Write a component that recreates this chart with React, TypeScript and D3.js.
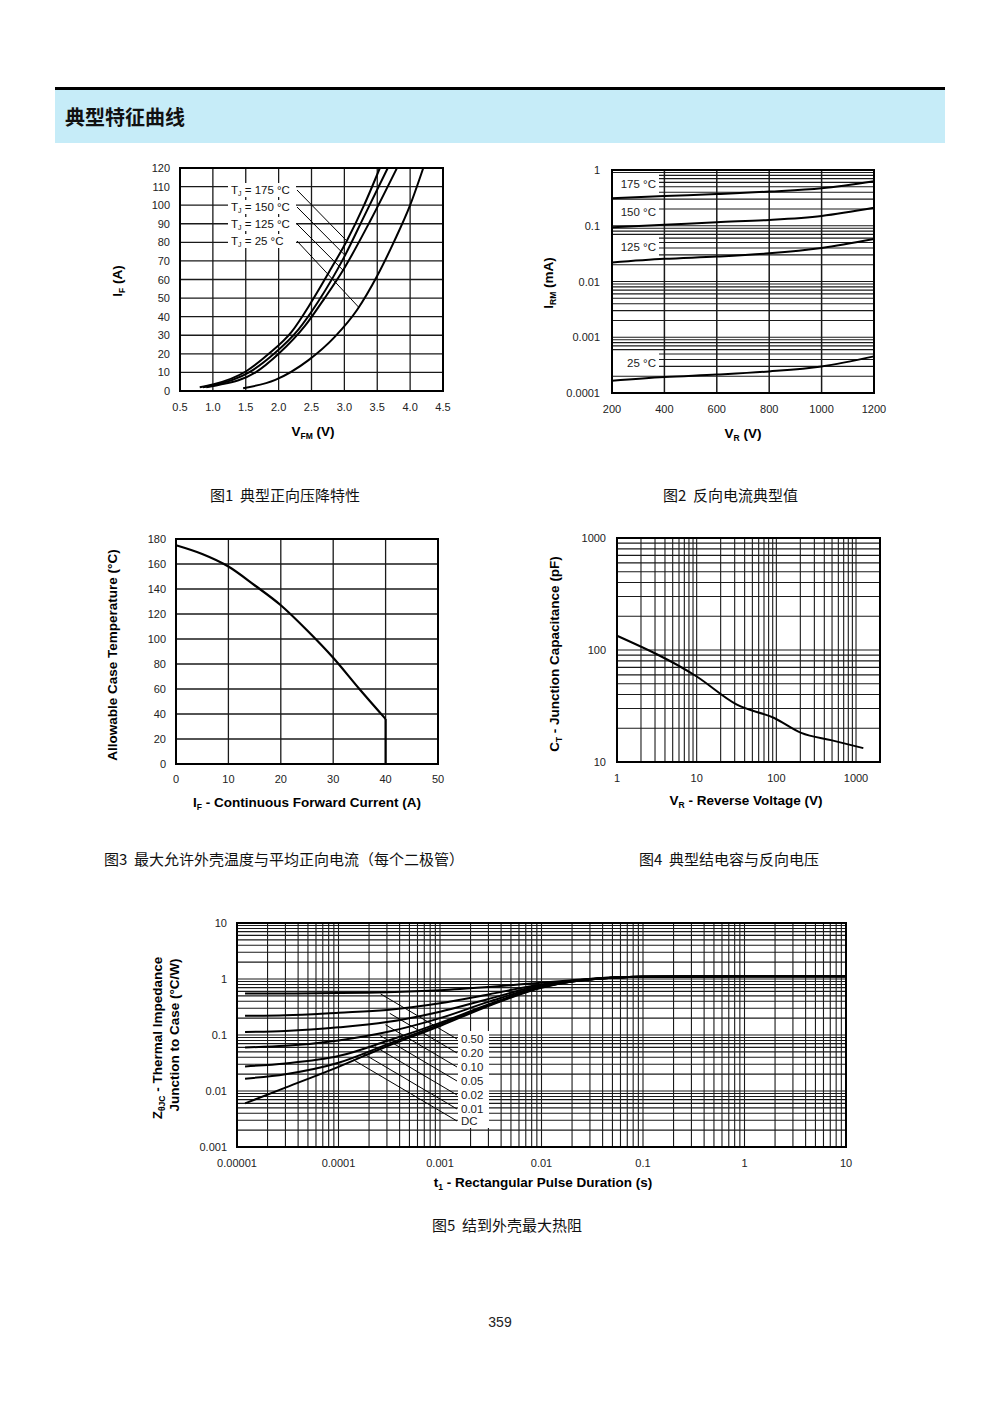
import React from 'react';
import * as d3 from 'd3';

const F = "'Liberation Sans', Arial, Helvetica, sans-serif";
const CJK = "'Noto Sans CJK SC', 'Noto Sans CJK JP', sans-serif";

// ---------- Fig1 data: forward voltage (V) vs forward current (A) ----------
const f1Labels = ['175', '150', '125', '25'];
const f1Curve175 = [[0.8, 2], [1.0, 3.5], [1.5, 10.5], [1.85, 20], [2.2, 32], [2.5, 48], [2.8, 66], [3.04, 81], [3.3, 100], [3.54, 120]];
const f1Curve150 = [[0.85, 2], [1.0, 3], [1.55, 10], [1.93, 20], [2.3, 33], [2.6, 48], [3.01, 73], [3.3, 94], [3.66, 120]];
const f1Curve125 = [[0.9, 2], [1.05, 3], [1.65, 10], [2.0, 20], [2.4, 35], [2.7, 50], [2.98, 65], [3.4, 92], [3.8, 120]];
const f1Curve25 = [[1.46, 1.5], [1.95, 6], [2.45, 16.5], [2.85, 29], [3.2, 44], [3.5, 62], [3.75, 80], [4.0, 100], [4.2, 120]];
const f1LeaderEnds = [[3.03, 81], [3.01, 73], [2.98, 65], [3.22, 45]];
const f1XTicks = [0.5, 1.0, 1.5, 2.0, 2.5, 3.0, 3.5, 4.0, 4.5];
const f1YTicks = [0, 10, 20, 30, 40, 50, 60, 70, 80, 90, 100, 110, 120];

// ---------- Fig2 data: reverse voltage (V) vs reverse current (mA) ----------
const f2Labels = ['175 °C', '150 °C', '125 °C', '25 °C'];
const f2Volts = [200, 400, 600, 800, 1000, 1200];
const f2I175 = [0.31, 0.34, 0.37, 0.41, 0.47, 0.63];
const f2I150 = [0.094, 0.104, 0.116, 0.127, 0.15, 0.21];
const f2I125 = [0.022, 0.0255, 0.028, 0.032, 0.04, 0.058];
const f2I25 = [0.000166, 0.000193, 0.000214, 0.000244, 0.0003, 0.000454];
const f2XTicks = [200, 400, 600, 800, 1000, 1200];
const f2YTicks = [1, 0.1, 0.01, 0.001, 0.0001];
const f2YTickLabels = ['1', '0.1', '0.01', '0.001', '0.0001'];

// ---------- Fig3 data: current (A) vs allowable case temperature ----------
const f3Current = [0, 5, 10, 15, 20, 25, 30, 35, 40];
const f3Temp = [175, 168, 158, 143, 127, 107, 85, 60, 36];
const f3XTicks = [0, 10, 20, 30, 40, 50];
const f3YTicks = [0, 20, 40, 60, 80, 100, 120, 140, 160, 180];

// ---------- Fig4 data: reverse voltage vs junction capacitance ----------
const f4Volts = [1, 10, 32, 94, 205, 500, 1235];
const f4Cap = [134, 58, 32.5, 24.7, 18.2, 15.6, 13.3];
const f4XTicks = [1, 10, 100, 1000];
const f4YTicks = [10, 100, 1000];

// ---------- Fig5 data: pulse duration vs thermal impedance ----------
const f5Names = ['0.50', '0.20', '0.10', '0.05', '0.02', '0.01', 'DC'];
const f5D050 = [[1.2e-5, 0.55], [3e-5, 0.55], [1e-4, 0.56], [3e-4, 0.58], [1e-3, 0.63], [3e-3, 0.72], [0.01, 0.86], [0.02, 0.95], [0.05, 1.06], [0.1, 1.1], [1, 1.12], [10, 1.12]];
const f5D020 = [[1.2e-5, 0.22], [3e-5, 0.225], [1e-4, 0.25], [3e-4, 0.28], [1e-3, 0.37], [3e-3, 0.53], [0.01, 0.8], [0.02, 0.93], [0.05, 1.06], [0.1, 1.1], [1, 1.12], [10, 1.12]];
const f5D010 = [[1.2e-5, 0.113], [3e-5, 0.118], [1e-4, 0.137], [3e-4, 0.17], [1e-3, 0.26], [3e-3, 0.44], [0.01, 0.77], [0.02, 0.92], [0.05, 1.05], [0.1, 1.1], [1, 1.12], [10, 1.12]];
const f5D005 = [[1.2e-5, 0.06], [3e-5, 0.064], [1e-4, 0.08], [3e-4, 0.113], [1e-3, 0.2], [3e-3, 0.39], [0.01, 0.74], [0.02, 0.91], [0.05, 1.05], [0.1, 1.1], [1, 1.12], [10, 1.12]];
const f5D002 = [[1.2e-5, 0.0275], [3e-5, 0.031], [1e-4, 0.042], [3e-4, 0.078], [1e-3, 0.165], [3e-3, 0.35], [0.01, 0.72], [0.02, 0.9], [0.05, 1.05], [0.1, 1.1], [1, 1.12], [10, 1.12]];
const f5D001 = [[1.2e-5, 0.0166], [3e-5, 0.02], [1e-4, 0.032], [3e-4, 0.068], [1e-3, 0.155], [3e-3, 0.34], [0.01, 0.71], [0.02, 0.9], [0.05, 1.05], [0.1, 1.1], [1, 1.12], [10, 1.12]];
const f5DC = [[1.2e-5, 0.006], [3e-5, 0.0115], [1e-4, 0.027], [3e-4, 0.063], [1e-3, 0.145], [3e-3, 0.33], [0.01, 0.7], [0.02, 0.9], [0.05, 1.05], [0.1, 1.1], [1, 1.12], [10, 1.12]];
const f5LeaderT = [2.6e-4, 3.2e-4, 2.9e-4, 2.56e-4, 2.3e-4, 1.75e-4, 1.4e-4];
const f5XTicks = [1e-5, 1e-4, 1e-3, 0.01, 0.1, 1, 10];
const f5XTickLabels = ['0.00001', '0.0001', '0.001', '0.01', '0.1', '1', '10'];
const f5YTicks = [10, 1, 0.1, 0.01, 0.001];
const f5YTickLabels = ['10', '1', '0.1', '0.01', '0.001'];

function logGrid(min: number, max: number): number[] {
  const out: number[] = [];
  for (let e = Math.floor(Math.log10(min)); e <= Math.ceil(Math.log10(max)); e++) {
    for (let k = 1; k < 10; k++) {
      const v = k * Math.pow(10, e);
      if (v >= min * 0.9999 && v <= max * 1.0001) out.push(v);
    }
  }
  return out;
}

const GRID = '#1a1a1a';
const TICK_FS = 11;
const CAP_FS = 15;
const TITLE_FS = 13.5;

function Caption({ x, y, text }: { x: number; y: number; text: string }) {
  return (
    <text x={x} y={y} fontFamily={CJK} fontSize={CAP_FS} fill="#111" xmlSpace="preserve" style={{ whiteSpace: 'pre' }}>{text}</text>
  );
}

function Fig1() {
  const x = d3.scaleLinear().domain([0.5, 4.5]).range([180, 443]);
  const y = d3.scaleLinear().domain([0, 120]).range([391, 168]);
  const line = d3.line<number[]>().x(d => x(d[0])).y(d => y(d[1])).curve(d3.curveMonotoneX);
  const curves = [f1Curve175, f1Curve150, f1Curve125, f1Curve25];
  const labelY = [190, 207, 224, 241];
  return (
    <g>
      {f1XTicks.map(v => <line key={'gx' + v} x1={x(v)} x2={x(v)} y1={y(0)} y2={y(120)} stroke={GRID} strokeWidth={1.3} />)}
      {f1YTicks.map(v => <line key={'gy' + v} x1={x(0.5)} x2={x(4.5)} y1={y(v)} y2={y(v)} stroke={GRID} strokeWidth={1.3} />)}
      <rect x={x(0.5)} y={y(120)} width={x(4.5) - x(0.5)} height={y(0) - y(120)} fill="none" stroke="#000" strokeWidth={2} />
      {f1Labels.map((t, i) => (
        <g key={'lab' + t}>
          <rect x={228} y={labelY[i] - 7} width={68} height={14} fill="#fff" />
          <line x1={297} y1={labelY[i]} x2={x(f1LeaderEnds[i][0])} y2={y(f1LeaderEnds[i][1])} stroke="#000" strokeWidth={1} />
          <text x={231} y={labelY[i] + 4} fontFamily={F} fontSize={11.5} fill="#111">
            T<tspan fontSize={7} dy={2}>J</tspan><tspan dy={-2}>{' = ' + t + ' °C'}</tspan>
          </text>
        </g>
      ))}
      {curves.map((c, i) => <path key={'c' + i} d={line(c) || ''} fill="none" stroke="#000" strokeWidth={2} />)}
      {f1YTicks.map(v => <text key={'ty' + v} x={170} y={y(v) + 4} textAnchor="end" fontFamily={F} fontSize={TICK_FS} fill="#222">{v}</text>)}
      {f1XTicks.map(v => <text key={'tx' + v} x={x(v)} y={411} textAnchor="middle" fontFamily={F} fontSize={TICK_FS} fill="#222">{v.toFixed(1)}</text>)}
      <text x={313} y={436} textAnchor="middle" fontFamily={F} fontSize={TITLE_FS} fontWeight="bold">V<tspan fontSize={8.5} dy={3}>FM</tspan><tspan dy={-3}> (V)</tspan></text>
      <text transform="translate(122,281) rotate(-90)" textAnchor="middle" fontFamily={F} fontSize={TITLE_FS} fontWeight="bold">I<tspan fontSize={8.5} dy={3}>F</tspan><tspan dy={-3}> (A)</tspan></text>
      <Caption x={210} y={501} text="图1  典型正向压降特性" />
    </g>
  );
}

function Fig2() {
  const x = d3.scaleLinear().domain([200, 1200]).range([612, 874]);
  const y = d3.scaleLog().domain([1e-4, 1]).range([393, 170]);
  const line = d3.line<number>().x((_, i) => x(f2Volts[i])).y(d => y(d)).curve(d3.curveMonotoneX);
  const hGrid = logGrid(1e-4, 1);
  const series = [f2I175, f2I150, f2I125, f2I25];
  const labelY = [184, 212, 247, 363];
  return (
    <g>
      {hGrid.map((v, i) => <line key={'gy' + i} x1={x(200)} x2={x(1200)} y1={y(v)} y2={y(v)} stroke={GRID} strokeWidth={1.1} />)}
      {f2XTicks.map(v => <line key={'gx' + v} x1={x(v)} x2={x(v)} y1={y(1e-4)} y2={y(1)} stroke={GRID} strokeWidth={1.5} />)}
      {f2Labels.map((t, i) => (
        <g key={'l' + i}>
          <rect x={613} y={labelY[i] - 10} width={46} height={20} fill="#fff" />
          <text x={656} y={labelY[i] + 4} textAnchor="end" fontFamily={F} fontSize={11.5} fill="#222">{t}</text>
        </g>
      ))}
      <rect x={x(200)} y={y(1)} width={x(1200) - x(200)} height={y(1e-4) - y(1)} fill="none" stroke="#000" strokeWidth={2} />
      {series.map((s, i) => <path key={'c' + i} d={line(s) || ''} fill="none" stroke="#000" strokeWidth={2} />)}
      {f2YTicks.map((v, i) => <text key={'ty' + i} x={600} y={y(v) + 4} textAnchor="end" fontFamily={F} fontSize={TICK_FS} fill="#222">{f2YTickLabels[i]}</text>)}
      {f2XTicks.map(v => <text key={'tx' + v} x={x(v)} y={413} textAnchor="middle" fontFamily={F} fontSize={TICK_FS} fill="#222">{v}</text>)}
      <text x={743} y={438} textAnchor="middle" fontFamily={F} fontSize={TITLE_FS} fontWeight="bold">V<tspan fontSize={8.5} dy={3}>R</tspan><tspan dy={-3}> (V)</tspan></text>
      <text transform="translate(553,283) rotate(-90)" textAnchor="middle" fontFamily={F} fontSize={TITLE_FS} fontWeight="bold">I<tspan fontSize={8.5} dy={3}>RM</tspan><tspan dy={-3}> (mA)</tspan></text>
      <Caption x={663} y={501} text="图2  反向电流典型值" />
    </g>
  );
}

function Fig3() {
  const x = d3.scaleLinear().domain([0, 50]).range([176, 438]);
  const y = d3.scaleLinear().domain([0, 180]).range([764, 539]);
  const line = d3.line<number>().x((_, i) => x(f3Current[i])).y(d => y(d)).curve(d3.curveMonotoneX);
  const last = f3Current.length - 1;
  return (
    <g>
      {f3XTicks.map(v => <line key={'gx' + v} x1={x(v)} x2={x(v)} y1={y(0)} y2={y(180)} stroke={GRID} strokeWidth={1.3} />)}
      {f3YTicks.map(v => <line key={'gy' + v} x1={x(0)} x2={x(50)} y1={y(v)} y2={y(v)} stroke={GRID} strokeWidth={1.3} />)}
      <rect x={x(0)} y={y(180)} width={x(50) - x(0)} height={y(0) - y(180)} fill="none" stroke="#000" strokeWidth={2} />
      <path d={line(f3Temp) || ''} fill="none" stroke="#000" strokeWidth={2.2} />
      <line x1={x(f3Current[last])} x2={x(f3Current[last])} y1={y(f3Temp[last])} y2={y(0)} stroke="#000" strokeWidth={2.2} />
      {f3YTicks.map(v => <text key={'ty' + v} x={166} y={y(v) + 4} textAnchor="end" fontFamily={F} fontSize={TICK_FS} fill="#222">{v}</text>)}
      {f3XTicks.map(v => <text key={'tx' + v} x={x(v)} y={783} textAnchor="middle" fontFamily={F} fontSize={TICK_FS} fill="#222">{v}</text>)}
      <text x={307} y={807} textAnchor="middle" fontFamily={F} fontSize={TITLE_FS} fontWeight="bold">I<tspan fontSize={8.5} dy={3}>F</tspan><tspan dy={-3}> - Continuous Forward Current (A)</tspan></text>
      <text transform="translate(117,655) rotate(-90)" textAnchor="middle" fontFamily={F} fontSize={TITLE_FS} fontWeight="bold">Allowable Case Temperature (°C)</text>
      <Caption x={104} y={865} text="图3  最大允许外壳温度与平均正向电流（每个二极管）" />
    </g>
  );
}

function Fig4() {
  const x = d3.scaleLog().domain([1, 2000]).range([617, 880]);
  const y = d3.scaleLog().domain([10, 1000]).range([762, 538]);
  const line = d3.line<number>().x((_, i) => x(f4Volts[i])).y(d => y(d)).curve(d3.curveMonotoneX);
  const vGrid = logGrid(1, 2000);
  const hGrid = logGrid(10, 1000);
  return (
    <g>
      {vGrid.map((v, i) => <line key={'gx' + i} x1={x(v)} x2={x(v)} y1={y(10)} y2={y(1000)} stroke={GRID} strokeWidth={1.1} />)}
      {hGrid.map((v, i) => <line key={'gy' + i} x1={x(1)} x2={x(2000)} y1={y(v)} y2={y(v)} stroke={GRID} strokeWidth={1.1} />)}
      <rect x={x(1)} y={y(1000)} width={x(2000) - x(1)} height={y(10) - y(1000)} fill="none" stroke="#000" strokeWidth={2} />
      <path d={line(f4Cap) || ''} fill="none" stroke="#000" strokeWidth={2} />
      {f4YTicks.map(v => <text key={'ty' + v} x={606} y={y(v) + 4} textAnchor="end" fontFamily={F} fontSize={TICK_FS} fill="#222">{v}</text>)}
      {f4XTicks.map(v => <text key={'tx' + v} x={x(v)} y={782} textAnchor="middle" fontFamily={F} fontSize={TICK_FS} fill="#222">{v}</text>)}
      <text x={746} y={805} textAnchor="middle" fontFamily={F} fontSize={TITLE_FS} fontWeight="bold">V<tspan fontSize={8.5} dy={3}>R</tspan><tspan dy={-3}> - Reverse Voltage (V)</tspan></text>
      <text transform="translate(559,654) rotate(-90)" textAnchor="middle" fontFamily={F} fontSize={TITLE_FS} fontWeight="bold">C<tspan fontSize={8.5} dy={3}>T</tspan><tspan dy={-3}> - Junction Capacitance (pF)</tspan></text>
      <Caption x={639} y={865} text="图4  典型结电容与反向电压" />
    </g>
  );
}

function Fig5() {
  const x = d3.scaleLog().domain([1e-5, 10]).range([237, 846]);
  const y = d3.scaleLog().domain([1e-3, 10]).range([1147, 923]);
  const line = d3.line<number[]>().x(d => x(d[0])).y(d => y(d[1])).curve(d3.curveMonotoneX);
  const vGrid = logGrid(1e-5, 10);
  const hGrid = logGrid(1e-3, 10);
  const series = [f5D050, f5D020, f5D010, f5D005, f5D002, f5D001, f5DC];
  const labelY = [1039, 1053, 1067, 1081, 1095, 1109, 1121];
  const endX = 457;
  const slope = 0.59;
  return (
    <g>
      {vGrid.map((v, i) => <line key={'gx' + i} x1={x(v)} x2={x(v)} y1={y(1e-3)} y2={y(10)} stroke={GRID} strokeWidth={1.1} />)}
      {hGrid.map((v, i) => <line key={'gy' + i} x1={x(1e-5)} x2={x(10)} y1={y(v)} y2={y(v)} stroke={GRID} strokeWidth={1.1} />)}
      <rect x={x(1e-5)} y={y(10)} width={x(10) - x(1e-5)} height={y(1e-3) - y(10)} fill="none" stroke="#000" strokeWidth={2} />
      <rect x={458} y={1031} width={31} height={97} fill="#fff" />
      {f5Names.map((n, i) => {
        const sx = x(f5LeaderT[i]);
        const sy = labelY[i] - slope * (endX - sx);
        return <line key={'ld' + i} x1={sx} y1={sy} x2={endX} y2={labelY[i]} stroke="#000" strokeWidth={1} />;
      })}
      {series.map((s, i) => <path key={'c' + i} d={line(s) || ''} fill="none" stroke="#000" strokeWidth={2} />)}
      {f5Names.map((n, i) => <text key={'ln' + i} x={461} y={labelY[i] + 4} fontFamily={F} fontSize={11.5} fill="#222">{n}</text>)}
      {f5YTicks.map((v, i) => <text key={'ty' + i} x={227} y={y(v) + 4} textAnchor="end" fontFamily={F} fontSize={TICK_FS} fill="#222">{f5YTickLabels[i]}</text>)}
      {f5XTicks.map((v, i) => <text key={'tx' + i} x={x(v)} y={1167} textAnchor="middle" fontFamily={F} fontSize={TICK_FS} fill="#222">{f5XTickLabels[i]}</text>)}
      <text x={543} y={1187} textAnchor="middle" fontFamily={F} fontSize={TITLE_FS} fontWeight="bold">t<tspan fontSize={8.5} dy={3}>1</tspan><tspan dy={-3}> - Rectangular Pulse Duration (s)</tspan></text>
      <text transform="translate(162,1038) rotate(-90)" textAnchor="middle" fontFamily={F} fontSize={TITLE_FS} fontWeight="bold">Z<tspan fontSize={8.5} dy={3}>θJC</tspan><tspan dy={-3}> - Thermal Impedance</tspan></text>
      <text transform="translate(179,1035) rotate(-90)" textAnchor="middle" fontFamily={F} fontSize={TITLE_FS} fontWeight="bold">Junction to Case (°C/W)</text>
      <Caption x={432} y={1231} text="图5  结到外壳最大热阻" />
    </g>
  );
}

export default function App() {
  return (
    <svg width={1000} height={1414} viewBox="0 0 1000 1414" style={{ position: 'absolute', left: 0, top: 0, background: '#fff' }}>
      <rect x={0} y={0} width={1000} height={1414} fill="#fff" />
      <rect x={55} y={87} width={890} height={3} fill="#000" />
      <rect x={55} y={90} width={890} height={53} fill="#c6ecf8" />
      <text x={65} y={125} fontFamily={CJK} fontSize={20} fontWeight="bold" fill="#111">典型特征曲线</text>
      <Fig1 />
      <Fig2 />
      <Fig3 />
      <Fig4 />
      <Fig5 />
      <text x={500} y={1327} textAnchor="middle" fontFamily={F} fontSize={14} fill="#222">359</text>
    </svg>
  );
}
